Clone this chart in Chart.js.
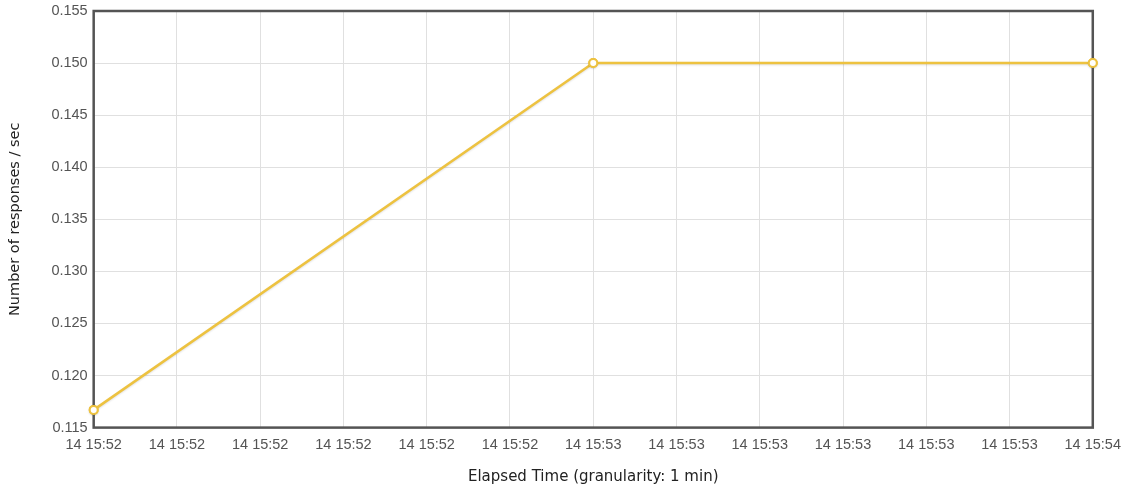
<!DOCTYPE html>
<html>
<head>
<meta charset="utf-8">
<script src="https://cdn.jsdelivr.net/npm/chart.js@4.4.1/dist/chart.umd.min.js"></script>
<style>
  html, body { margin: 0; padding: 0; background: #fff; }
  #wrap { width: 1130px; height: 490px; position: relative; }
</style>
</head>
<body>
<div id="wrap"><canvas id="c" width="1130" height="490"></canvas></div>
<script>
// Elapsed seconds from 14 15:52:00
const elapsedSeconds = [0, 60, 120];
const responsesPerSec = [0.1167, 0.150, 0.150];
const xTickStep = 10;
const xMin = 0, xMax = 120;
const yMin = 0.115, yMax = 0.155, yStep = 0.005;
const dayLabel = "14";
const startHour = 15, startMinute = 52;
const xTitle = "Elapsed Time (granularity: 1 min)";
const yTitle = "Number of responses / sec";

function tickLabel(v) {
  const m = startMinute + Math.floor(v / 60);
  return dayLabel + " " + startHour + ":" + String(m).padStart(2, "0");
}

const borderPlugin = {
  id: 'plotBorder',
  afterDatasetsDraw(chart) {
    const a = chart.chartArea, ctx = chart.ctx;
    ctx.save();
    ctx.strokeStyle = '#545454';
    ctx.lineWidth = 2.5;
    ctx.strokeRect(a.left, a.top, a.right - a.left, a.bottom - a.top);
    ctx.restore();
  }
};

const shadowPlugin = {
  id: 'lineShadow',
  beforeDatasetDraw(chart) {
    const ctx = chart.ctx;
    ctx.save();
    ctx.shadowColor = 'rgba(0,0,0,0.12)';
    ctx.shadowBlur = 2;
    ctx.shadowOffsetY = 1;
  },
  afterDatasetDraw(chart) { chart.ctx.restore(); }
};

const pointTopPlugin = {
  id: 'pointsOnTop',
  afterDraw(chart) {
    const meta = chart.getDatasetMeta(0);
    meta.data.forEach(p => p.draw(chart.ctx));
  }
};

new Chart(document.getElementById('c'), {
  type: 'line',
  data: {
    datasets: [{
      data: elapsedSeconds.map((x, i) => ({ x: x, y: responsesPerSec[i] })),
      borderColor: '#EDC240',
      borderWidth: 2.5,
      pointRadius: 4,
      pointBorderWidth: 2,
      pointBackgroundColor: '#ffffff',
      pointBorderColor: '#EDC240',
      tension: 0,
      fill: false,
      clip: false
    }]
  },
  options: {
    responsive: false,
    animation: false,
    layout: { padding: { left: 7, right: 36, top: 11, bottom: 4 } },
    plugins: { legend: { display: false }, tooltip: { enabled: false } },
    scales: {
      x: {
        type: 'linear',
        min: xMin, max: xMax,
        afterBuildTicks(scale) {
          const t = [];
          for (let v = xMin; v <= xMax; v += xTickStep) t.push({ value: v });
          scale.ticks = t;
        },
        ticks: {
          callback: (v) => tickLabel(v),
          color: '#545454',
          font: { family: 'Liberation Sans', size: 14.5 },
          maxRotation: 0, autoSkip: false, padding: 9
        },
        grid: { color: '#e0e0e0', drawTicks: false },
        border: { display: false },
        title: {
          display: true, text: xTitle, color: '#222',
          font: { family: 'DejaVu Sans', size: 15 },
          padding: { top: 5, bottom: 0 }
        }
      },
      y: {
        min: yMin, max: yMax,
        afterFit(scale) { scale.paddingTop = 0; scale.paddingBottom = 0; },
        ticks: {
          stepSize: yStep,
          callback: (v) => v.toFixed(3),
          color: '#545454',
          font: { family: 'Liberation Sans', size: 14.5 },
          padding: 6
        },
        grid: { color: '#e0e0e0', drawTicks: false },
        border: { display: false },
        title: {
          display: true, text: yTitle, color: '#222',
          font: { family: 'DejaVu Sans', size: 14.5 },
          padding: { top: 0, bottom: 21 }
        }
      }
    }
  },
  plugins: [shadowPlugin, borderPlugin, pointTopPlugin]
});
</script>
</body>
</html>
